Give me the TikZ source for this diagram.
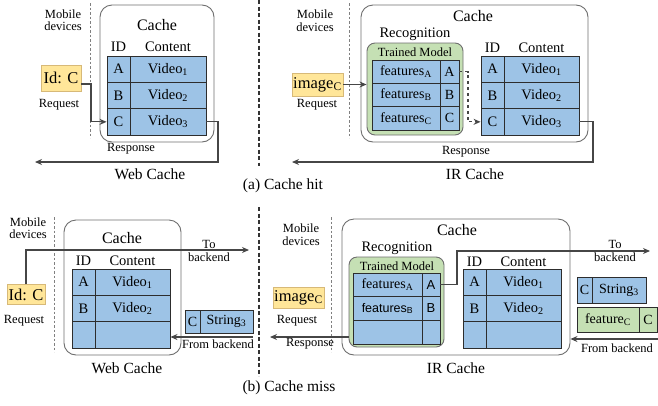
\documentclass[tikz,border=0pt]{standalone}
\usepackage{fontspec}
\setmainfont{Liberation Serif}
\newfontfamily\sansf{Liberation Sans}
\usetikzlibrary{arrows.meta,calc}
\definecolor{blueF}{RGB}{157,195,230}
\definecolor{greenF}{RGB}{197,224,180}
\definecolor{yellowF}{RGB}{255,230,153}
\definecolor{ybord}{RGB}{215,185,120}
\definecolor{tline}{RGB}{45,45,45}
\definecolor{cgray}{RGB}{110,110,110}
\definecolor{agray}{RGB}{70,70,70}
\newcommand\fsz[1]{\rmfamily\fontsize{#1}{#1}\selectfont}
\tikzset{
  tcell/.style={draw=tline, fill=blueF, line width=0.9pt, inner sep=0pt, minimum height=26.33pt, font=\fsz{14.5}},
  fcell/.style={draw=tline, fill=blueF, line width=0.9pt, inner sep=0pt, font=\fsz{14}},
  gcell/.style={draw=tline, fill=greenF, line width=0.9pt, inner sep=0pt, font=\fsz{14}},
  cachebox/.style={draw=cgray, rounded corners=12pt, line width=0.9pt, inner sep=0pt},
  greenbox/.style={draw=cgray, fill=greenF, rounded corners=8pt, line width=0.9pt, inner sep=0pt},
  reqbox/.style={draw=ybord, fill=yellowF, font=\fsz{16.5}, inner sep=0pt, line width=0.8pt},
  flow/.style={draw=agray, line width=1.1pt, -{Stealth[length=7pt,width=6pt]}},
  divline/.style={draw=gray, dash pattern=on 2.5pt off 2pt, line width=0.8pt},
  middiv/.style={draw=black!80, dash pattern=on 4pt off 2.5pt, line width=1.6pt},
  lbl/.style={inner sep=0pt, font=\fsz{12.5}, align=center},
  title/.style={inner sep=0pt, font=\fsz{16}},
  hdr/.style={inner sep=0pt, font=\fsz{14.5}},
  capt/.style={inner sep=0pt, font=\fsz{15.5}},
}
\begin{document}
\begin{tikzpicture}[x=1pt,y=-1pt]
\useasboundingbox (0,0) rectangle (658,405);

% ---------- central dividers ----------
\coordinate (midTa) at (259,0);
\coordinate (midTb) at (259,166);
\coordinate (midBa) at (259,207);
\coordinate (midBb) at (259,376);
\draw[middiv] (midTa) -- (midTb);
\draw[middiv] (midBa) -- (midBb);

% ================= (a) Web Cache =================
\coordinate (dvA1) at (90,3); \coordinate (dvA2) at (90,138);
\draw[divline] (dvA1) -- (dvA2);
\node[lbl] (mobA) at (63,20) {Mobile\\devices};
\node[cachebox, minimum width=114pt, minimum height=137pt] (cacheA) at (157,73.5) {};
\node[title] (ctA) at (157,25) {Cache};
\node[hdr] (idhA) at (118.5,47) {ID};
\node[hdr] (cohA) at (168,47) {Content};
\node[tcell, minimum width=23pt] (aA1) at (118.5,69.17) {A};
\node[tcell, minimum width=76pt] (aV1) at (168,69.17) {Video\textsubscript{1}};
\node[tcell, minimum width=23pt] (aA2) at (118.5,95.5) {B};
\node[tcell, minimum width=76pt] (aV2) at (168,95.5) {Video\textsubscript{2}};
\node[tcell, minimum width=23pt] (aA3) at (118.5,121.83) {C};
\node[tcell, minimum width=76pt] (aV3) at (168,121.83) {Video\textsubscript{3}};
\node[reqbox, minimum width=40pt, minimum height=26pt] (reqA) at (61,78) {Id: C};
\node[lbl] (rqtA) at (59,105) {Request};
\draw[flow] ($(reqA.east)+(0,6)$) -| (91,110) |- (aA3.west);
\coordinate (respA) at (35,162);
\draw[flow] (aV3.east) -| (218,140) |- (respA);
\node[lbl] (rstA) at (131,148.5) {Response};
\node[capt] (wcA) at (150,174) {Web Cache};

% ================= (a) IR Cache =================
\coordinate (dvB1) at (349,3); \coordinate (dvB2) at (349,138);
\draw[divline] (dvB1) -- (dvB2);
\node[lbl] (mobB) at (315,20.5) {Mobile\\devices};
\node[cachebox, minimum width=227pt, minimum height=137pt] (cacheB) at (474.5,73.5) {};
\node[title] (ctB) at (473,16) {Cache};
\node[inner sep=0pt, font=\fsz{14.5}] (recB) at (415,34) {Recognition};
\node[greenbox, minimum width=96pt, minimum height=92pt] (gbA) at (415,89) {};
\node[inner sep=0pt, font=\fsz{12.5}] (tmA) at (415,52) {Trained Model};
\node[fcell, minimum width=68pt, minimum height=23.33pt] (fA1) at (406,71.67) {features\textsubscript{A}};
\node[fcell, minimum width=19pt, minimum height=23.33pt] (fAa) at (449.5,71.67) {A};
\node[fcell, minimum width=68pt, minimum height=23.33pt] (fA2) at (406,95) {features\textsubscript{B}};
\node[fcell, minimum width=19pt, minimum height=23.33pt] (fAb) at (449.5,95) {B};
\node[fcell, minimum width=68pt, minimum height=23.33pt] (fA3) at (406,118.33) {features\textsubscript{C}};
\node[fcell, minimum width=19pt, minimum height=23.33pt] (fAc) at (449.5,118.33) {C};
\node[hdr] (idhB) at (492.5,48) {ID};
\node[hdr] (cohB) at (541.5,48) {Content};
\node[tcell, minimum width=23pt] (bA1) at (492.5,69.17) {A};
\node[tcell, minimum width=75pt] (bV1) at (541.5,69.17) {Video\textsubscript{1}};
\node[tcell, minimum width=23pt] (bA2) at (492.5,95.5) {B};
\node[tcell, minimum width=75pt] (bV2) at (541.5,95.5) {Video\textsubscript{2}};
\node[tcell, minimum width=23pt] (bA3) at (492.5,121.83) {C};
\node[tcell, minimum width=75pt] (bV3) at (541.5,121.83) {Video\textsubscript{3}};
\node[reqbox, minimum width=51pt, minimum height=23pt] (reqB) at (317.5,84.5) {image\textsubscript{C}};
\node[lbl] (rqtB) at (317,105) {Request};
\draw[flow] (reqB.east) -- (gbA.west |- reqB.east);
\draw[flow, dashed] (fAa.east) -| (468,100) |- (bA3.west);
\coordinate (respB) at (292,162);
\draw[flow] (bV3.east) -| (593,140) |- (respB);
\node[lbl] (rstB) at (466,152) {Response};
\node[capt] (irA) at (475,174) {IR Cache};

\node[capt] (capA) at (283,186) {(a) Cache hit};

% ================= (b) Web Cache =================
\coordinate (dvC1) at (54,217); \coordinate (dvC2) at (54,352);
\draw[divline] (dvC1) -- (dvC2);
\node[lbl] (mobC) at (28,228) {Mobile\\devices};
\node[cachebox, minimum width=117pt, minimum height=135pt] (cacheC) at (122.5,287.5) {};
\node[title] (ctC) at (122,238) {Cache};
\node[hdr] (idhC) at (83.5,261) {ID};
\node[hdr] (cohC) at (132.5,261) {Content};
\node[tcell, minimum width=23pt] (cA1) at (83.5,282.17) {A};
\node[tcell, minimum width=75pt] (cV1) at (132.5,282.17) {Video\textsubscript{1}};
\node[tcell, minimum width=23pt] (cA2) at (83.5,308.5) {B};
\node[tcell, minimum width=75pt] (cV2) at (132.5,308.5) {Video\textsubscript{2}};
\node[tcell, minimum width=23pt] (cA3) at (83.5,334.83) {};
\node[tcell, minimum width=75pt] (cV3) at (132.5,334.83) {};
\node[reqbox, minimum width=38pt, minimum height=20pt] (reqC) at (26,294.5) {Id: C};
\node[lbl] (rqtC) at (24,321) {Request};
\coordinate (toC) at (249,250);
\draw[flow] (reqC.north) |- (toC);
\node[lbl] (toCt) at (209,251) {To\\backend};
\node[gcell, fill=blueF, minimum width=15pt, minimum height=23pt] (sC1) at (192.5,321.5) {C};
\node[gcell, fill=blueF, minimum width=53pt, minimum height=23pt] (sC2) at (226.5,321.5) {String\textsubscript{3}};
\coordinate (fromC) at (253,337);
\draw[flow] (fromC) -- (fromC -| cV3.east);
\node[lbl] (frCt) at (218,344) {From backend};
\node[capt] (wcB) at (127,368) {Web Cache};

% ================= (b) IR Cache =================
\coordinate (dvD1) at (331,217); \coordinate (dvD2) at (331,352);
\draw[divline] (dvD1) -- (dvD2);
\node[lbl] (mobD) at (301,234.5) {Mobile\\devices};
\node[cachebox, minimum width=228pt, minimum height=136pt] (cacheD) at (456,287) {};
\node[title] (ctD) at (457,230) {Cache};
\node[inner sep=0pt, font=\fsz{14.5}] (recD) at (397,248) {Recognition};
\node[greenbox, minimum width=95pt, minimum height=90pt] (gbB) at (396.5,302) {};
\node[inner sep=0pt, font=\fsz{12.5}] (tmB) at (397,266) {Trained Model};
\node[fcell, minimum width=69pt, minimum height=23.67pt] (fB1) at (387.5,284.83) {features\textsubscript{A}};
\node[fcell, minimum width=18pt, minimum height=23.67pt, font=\fsz{13}\sansf] (fBa) at (431,284.83) {A};
\node[fcell, minimum width=69pt, minimum height=23.67pt, font=\fsz{12.5}\sansf] (fB2) at (387.5,308.5) {features\textsubscript{B}};
\node[fcell, minimum width=18pt, minimum height=23.67pt, font=\fsz{13}\sansf] (fBb) at (431,308.5) {B};
\node[fcell, minimum width=69pt, minimum height=23.67pt] (fB3) at (387.5,332.17) {};
\node[fcell, minimum width=18pt, minimum height=23.67pt] (fBc) at (431,332.17) {};
\node[hdr] (idhD) at (474.5,262) {ID};
\node[hdr] (cohD) at (523.5,262) {Content};
\node[tcell, minimum width=23pt] (dA1) at (474.5,282.17) {A};
\node[tcell, minimum width=75pt] (dV1) at (523.5,282.17) {Video\textsubscript{1}};
\node[tcell, minimum width=23pt] (dA2) at (474.5,308.5) {B};
\node[tcell, minimum width=75pt] (dV2) at (523.5,308.5) {Video\textsubscript{2}};
\node[tcell, minimum width=23pt] (dA3) at (474.5,334.83) {};
\node[tcell, minimum width=75pt] (dV3) at (523.5,334.83) {};
\node[reqbox, minimum width=51pt, minimum height=21pt] (reqD) at (298.5,297.5) {image\textsubscript{C}};
\node[lbl] (rqtD) at (297,321) {Request};
\coordinate (respD) at (270,337);
\draw[flow] (gbB.west |- respD) -- (respD);
\node[lbl] (rstD) at (310,344) {Response};
\coordinate (toD) at (650,251);
\draw[flow] (fBa.east) -| (457,270) |- (toD);
\node[lbl] (toDt) at (615,251) {To\\backend};
\node[gcell, fill=blueF, minimum width=15pt, minimum height=26pt] (sD1) at (584.5,290) {C};
\node[gcell, fill=blueF, minimum width=54pt, minimum height=26pt] (sD2) at (619,290) {String\textsubscript{3}};
\node[gcell, minimum width=62pt, minimum height=25pt] (gD1) at (608,319.5) {feature\textsubscript{C}};
\node[gcell, minimum width=18pt, minimum height=25pt] (gD2) at (648,319.5) {C};
\coordinate (fromD) at (658,339);
\draw[flow] (fromD) -- (fromD -| cacheD.east);
\node[lbl] (frDt) at (617,348.5) {From backend};
\node[capt] (irB) at (456,368) {IR Cache};

\node[capt] (capB) at (289,388) {(b) Cache miss};
\end{tikzpicture}
\end{document}
